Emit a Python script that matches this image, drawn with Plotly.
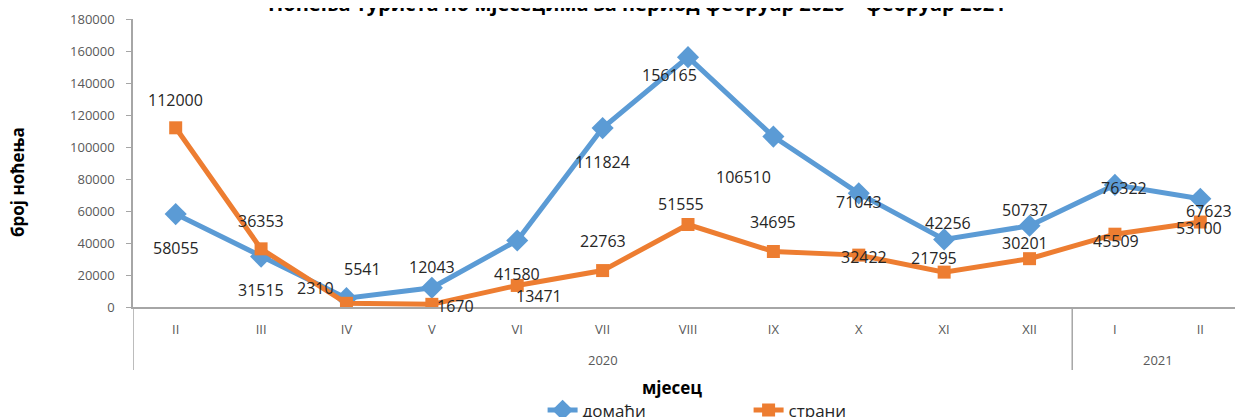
import plotly.graph_objects as go

months = ["II", "III", "IV", "V", "VI", "VII", "VIII", "IX", "X", "XI", "XII", "I", "II"]
years = ["2020", "2021"]
year_counts = [11, 2]
domaci = [58055, 31515, 5541, 12043, 41580, 111824, 156165, 106510, 71043, 42256, 50737, 76322, 67623]
strani = [112000, 36353, 2310, 1670, 13471, 22763, 51555, 34695, 32422, 21795, 30201, 45509, 53100]
y_ticks = [0, 20000, 40000, 60000, 80000, 100000, 120000, 140000, 160000, 180000]

title_text = "Ноћења туриста по мјесецима за период фебруар 2020 – фебруар 2021"
y_title = "број ноћења"
x_title = "мјесец"
names = ["домаћи", "страни"]

# pixel offsets of the value labels (dx, dy) — style only
dom_off = [(0, 34), (0, 33), (16, -29), (0, -21), (0, 34), (0, 34), (-19, 18), (-30, 40),
           (0, 9), (4, -16), (-5, -16), (9, 3), (9, 12)]
str_off = [(0, -28), (0, -28), (-31, -15), (24, 2), (22, 11), (0, -30), (-7, -21), (0, -29),
           (5, 2), (-10, -14), (-5, -16), (1, 7), (-1, 6)]

BLUE = "#5B9BD5"
ORANGE = "#ED7D31"
AXIS = "#A6A6A6"
TXT = "#595959"
FONT = "Open Sans"

x_idx = list(range(len(months)))

fig = go.Figure()
fig.add_trace(go.Scatter(x=x_idx, y=domaci, name=names[0], mode="lines+markers",
                         line=dict(color=BLUE, width=5),
                         marker=dict(symbol="diamond", size=17, color=BLUE)))
fig.add_trace(go.Scatter(x=x_idx, y=strani, name=names[1], mode="lines+markers",
                         line=dict(color=ORANGE, width=5),
                         marker=dict(symbol="square", size=13, color=ORANGE)))

annotations = []
for series, offs in ((domaci, dom_off), (strani, str_off)):
    for i, v in enumerate(series):
        dx, dy = offs[i]
        annotations.append(dict(x=x_idx[i], y=v, text=str(v), showarrow=False,
                                xanchor="center", yanchor="middle",
                                xshift=dx, yshift=-dy,
                                font=dict(family=FONT, size=16, color="#262626")))

# year group labels and dividers
shapes = []
start = 0
for yr, cnt in zip(years, year_counts):
    center = start + (cnt - 1) / 2
    annotations.append(dict(x=center, y=-0.184, yref="paper", text=yr, showarrow=False,
                            xanchor="center", yanchor="middle",
                            font=dict(family=FONT, size=13, color=TXT)))
    shapes.append(dict(type="line", xref="x", yref="paper", x0=start - 0.5, x1=start - 0.5,
                       y0=0, y1=-0.219, line=dict(color=AXIS, width=1.5)))
    start += cnt

annotations.append(dict(x=0.454, y=1.054, xref="paper", yref="paper", text=title_text,
                        showarrow=False, xanchor="center", yanchor="middle",
                        font=dict(family=FONT, size=20, color="#000000", weight="bold")))
annotations.append(dict(x=-0.1045, y=0.434, xref="paper", yref="paper", text=y_title,
                        showarrow=False, textangle=-90, xanchor="center", yanchor="middle",
                        font=dict(family=FONT, size=17, color="#000000", weight="bold")))
annotations.append(dict(x=0.4856, y=-0.281, xref="paper", yref="paper", text=x_title,
                        showarrow=False, xanchor="center", yanchor="middle",
                        font=dict(family=FONT, size=17, color="#000000", weight="bold")))

# page body adds an 8px offset; figure is sized so the plot area lands where the reference has it
fig.update_layout(
    width=1235, height=409,
    margin=dict(l=125, r=0, t=11, b=110, autoexpand=False),
    paper_bgcolor="white", plot_bgcolor="white",
    showlegend=True,
    legend=dict(orientation="h", x=0.369, xanchor="left", y=-0.297, yanchor="top",
                font=dict(family=FONT, size=17, color="#262626"), entrywidth=161,
                bgcolor="rgba(0,0,0,0)"),
    annotations=annotations,
    shapes=shapes,
    xaxis=dict(range=[-0.5, len(months) - 0.5], tickvals=x_idx, ticktext=months,
               showgrid=False, zeroline=False, showline=True, linecolor=AXIS, linewidth=1.5,
               ticks="", ticklabelstandoff=10,
               tickfont=dict(family=FONT, size=13, color=TXT)),
    yaxis=dict(range=[0, 180000], tickvals=y_ticks, showgrid=False, zeroline=False,
               showline=True, linecolor=AXIS, linewidth=1.5,
               ticks="outside", ticklen=5, tickcolor=AXIS, ticklabelstandoff=9,
               tickformat="d",
               tickfont=dict(family=FONT, size=13, color=TXT)),
)

fig.write_html("out.html")
